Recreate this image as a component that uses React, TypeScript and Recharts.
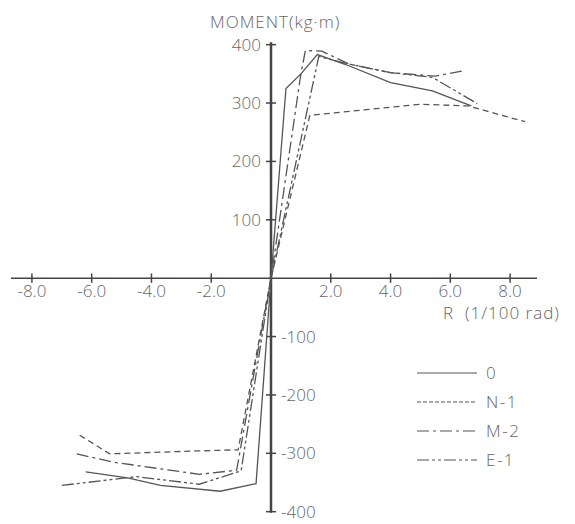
import { LineChart, Line, XAxis, YAxis, ReferenceLine, Legend } from "recharts";

// rotation R (1/100 rad) and moment (kg·m) per specimen
const rot0 = [-6.2, -4.8, -3.7, -1.7, -0.5, 0, 0.5, 1.0, 1.55, 2.5, 4.0, 5.4, 6.7];
const mom0 = [-332, -342, -355, -365, -352, 0, 325, 350, 383, 366, 335, 321, 295];

const rotN1 = [-6.4, -5.4, -2.5, -1.1, 0, 1.3, 5.0, 6.6, 8.5];
const momN1 = [-269, -301, -296, -294, 0, 279, 298, 295, 268];

const rotM2 = [-6.5, -5.3, -2.4, -1.15, 0, 1.0, 1.15, 1.7, 2.6, 4.0, 5.5, 6.4];
const momM2 = [-301, -315, -336, -329, 0, 350, 390, 389, 367, 352, 346, 355];

const rotE1 = [-7.0, -4.5, -2.4, -1.0, 0, 1.6, 2.5, 4.0, 5.4, 6.9];
const momE1 = [-355, -340, -353, -330, 0, 380, 368, 352, 344, 299];

const xTicks = [-8, -6, -4, -2, 2, 4, 6, 8];
const yTicks = [400, 300, 200, 100, -100, -200, -300, -400];

const toPoints = (xs: number[], ys: number[]) => xs.map((x, i) => ({ x, y: ys[i] }));

const series = [
  { name: "0", data: toPoints(rot0, mom0), dash: undefined },
  { name: "N-1", data: toPoints(rotN1, momN1), dash: "6 4" },
  { name: "M-2", data: toPoints(rotM2, momM2), dash: "12 4 3 4" },
  { name: "E-1", data: toPoints(rotE1, momE1), dash: "12 3 3 3 3 3" },
];

const INK = "#555";
const TEXT = "#666";
const FONT = "'Open Sans', sans-serif";

const labelStyle = { fill: TEXT, fontSize: 17, fontFamily: FONT, fontWeight: 300 };

function renderLegend() {
  return (
    <svg width={150} height={115}>
      {series.map((s, i) => (
        <g key={s.name}>
          <line x1={0} x2={60} y1={13 + i * 29} y2={13 + i * 29} stroke={INK} strokeWidth={1.1} strokeDasharray={s.name === "N-1" ? "4 2" : s.dash} />
          <text x={69} y={19 + i * 29} fill={TEXT} fontSize={17} fontFamily={FONT} fontWeight={300} letterSpacing={1.5}>
            {s.name}
          </text>
        </g>
      ))}
    </svg>
  );
}

export default function App() {
  return (
    <div style={{ position: "absolute", left: 0, top: 0, width: 575, height: 524, background: "#fff" }}>
      <LineChart width={575} height={524} margin={{ top: 40, right: 38, bottom: 10, left: 11 }}>
        <XAxis dataKey="x" type="number" domain={[-8.7, 8.9]} allowDataOverflow hide />
        <YAxis type="number" domain={[-404, 408]} allowDataOverflow hide />

        <ReferenceLine y={0} stroke="#444" strokeWidth={1.5} />
        <ReferenceLine segment={[{ x: 0, y: -402 }, { x: 0, y: 404 }]} stroke="#444" strokeWidth={2.5} />

        {xTicks.map((v) => (
          <ReferenceLine
            key={"xt" + v}
            segment={[{ x: v, y: -8 }, { x: v, y: 8 }]}
            stroke="#444"
            strokeWidth={1.5}
            label={{ value: v.toFixed(1), position: "bottom", offset: 2, ...labelStyle }}
          />
        ))}
        {yTicks.map((v) => (
          <ReferenceLine
            key={"yt" + v}
            segment={[{ x: -0.17, y: v }, { x: 0.17, y: v }]}
            stroke="#444"
            strokeWidth={1.5}
            label={{ value: String(v), position: v > 0 ? "left" : "right", offset: 5, ...labelStyle }}
          />
        ))}

        {series.map((s) => (
          <Line
            key={s.name}
            data={s.data}
            dataKey="y"
            name={s.name}
            type="linear"
            stroke={INK}
            strokeWidth={1.3}
            strokeDasharray={s.dash}
            dot={false}
            activeDot={false}
            isAnimationActive={false}
          />
        ))}

        <Legend
          layout="vertical"
          align="center"
          verticalAlign="middle"
          content={renderLegend}
          wrapperStyle={{ position: "absolute", left: 417, top: 360, width: 150, height: 115 }}
        />
      </LineChart>
      <div style={{ position: "absolute", left: 210, top: 13, lineHeight: 1, color: TEXT, fontSize: 17, fontFamily: FONT, fontWeight: 300, letterSpacing: 1 }}>
        MOMENT(kg·m)
      </div>
      <div style={{ position: "absolute", left: 443, top: 304, lineHeight: 1, color: TEXT, fontSize: 17, fontFamily: FONT, fontWeight: 300, letterSpacing: 1, whiteSpace: "pre" }}>
        R  (1/100 rad)
      </div>
    </div>
  );
}
